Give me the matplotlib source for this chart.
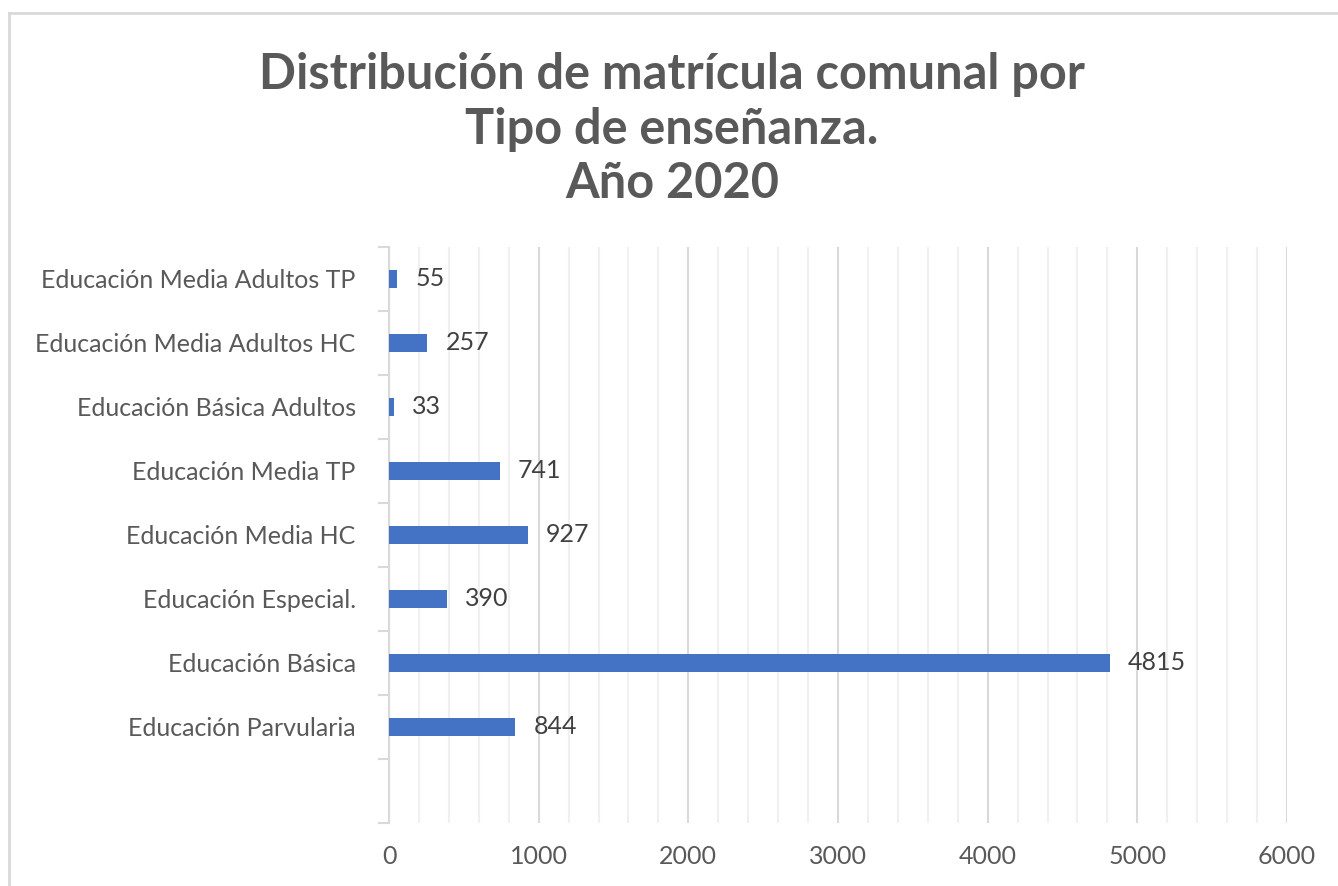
import matplotlib
matplotlib.use("Agg")
import matplotlib.pyplot as plt
from matplotlib.lines import Line2D
from matplotlib.ticker import MultipleLocator, FixedLocator

# Data (bottom to top)
categories = [
    "Educación Parvularia",
    "Educación Básica",
    "Educación Especial.",
    "Educación Media HC",
    "Educación Media TP",
    "Educación Básica Adultos",
    "Educación Media Adultos HC",
    "Educación Media Adultos TP",
]
matricula = [844, 4815, 390, 927, 741, 33, 257, 55]

title = "Distribución de matrícula comunal por\nTipo de enseñanza.\nAño 2020"

plt.rcParams["font.family"] = ["Lato", "DejaVu Sans"]

W, H = 1338, 886
fig = plt.figure(figsize=(W / 100, H / 100), dpi=100)
ax = fig.add_axes([389 / W, 1 - 823 / H, (1287 - 389) / W, (823 - 247) / H])

# empty slot at the bottom, categories in slots 1..8
ypos = list(range(1, len(categories) + 1))
ax.barh(ypos, matricula, height=0.27, color="#4472c4", zorder=3)

for y, v in zip(ypos, matricula):
    ax.annotate(str(v), (v, y), xytext=(13, 0), textcoords="offset points",
                va="center", ha="left", fontsize=18, color="#404040")

ax.set_xlim(0, 6000)
ax.set_ylim(-0.5, 8.5)

ax.xaxis.set_major_locator(MultipleLocator(1000))
ax.xaxis.set_minor_locator(MultipleLocator(200))
ax.grid(axis="x", which="major", color="#d9d9d9", linewidth=1.5, zorder=0)
ax.grid(axis="x", which="minor", color="#f0f0f0", linewidth=1.5, zorder=0)
ax.tick_params(axis="x", which="both", length=0, labelsize=18,
               labelcolor="#595959", pad=16)

ax.set_yticks(ypos)
ax.set_yticklabels(categories)
ax.yaxis.set_minor_locator(FixedLocator([i - 0.5 for i in range(10)]))
ax.tick_params(axis="y", which="major", length=0, labelsize=18,
               labelcolor="#595959", pad=24)
ax.tick_params(axis="y", which="minor", length=8, width=1.5, color="#d9d9d9")

for s in ["top", "right", "bottom"]:
    ax.spines[s].set_visible(False)
ax.spines["left"].set_color("#d9d9d9")
ax.spines["left"].set_linewidth(1.5)

fig.text(672 / W, 1 - 129 / H, title, ha="center", va="center", fontsize=35,
         fontweight="bold", color="#595959", linespacing=1.25)

# chart area border
fig.add_artist(Line2D([9 / W, 9 / W], [0, 1 - 13 / H], color="#d9d9d9", linewidth=2))
fig.add_artist(Line2D([9 / W, 1], [1 - 13 / H, 1 - 13 / H], color="#d9d9d9", linewidth=2))

fig.savefig("out.png", dpi=100)
